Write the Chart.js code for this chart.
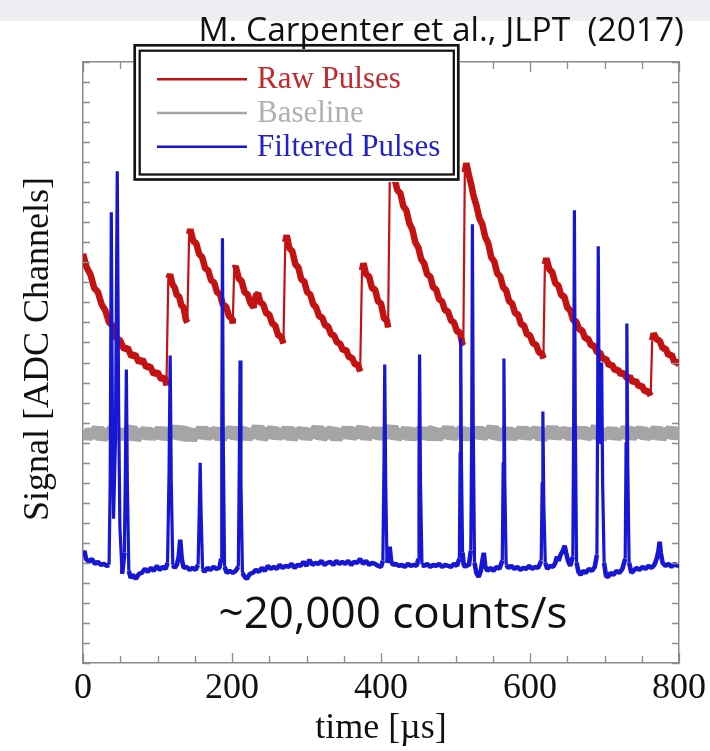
<!DOCTYPE html>
<html><head><meta charset="utf-8">
<script src="https://cdn.jsdelivr.net/npm/chart.js@4/dist/chart.umd.min.js"></script>
<style>html,body{margin:0;padding:0;background:#fff;}canvas{display:block;}</style>
</head><body>
<canvas id="c" width="710" height="751"></canvas>
<script>
// ---------- DATA (time in µs, signal in ADC-tick units) ----------
const seriesNames = ['Raw Pulses', 'Baseline', 'Filtered Pulses'];
const xLabelValues = [0, 200, 400, 600, 800];
const chartTitle = 'M. Carpenter et al., JLPT  (2017)';
const rateNote = '~20,000 counts/s';
const xTitle = 'time [\u00b5s]';
const yTitle = 'Signal [ADC Channels]';

const rawPulses = [
[0,20.42],[5,19.74],[10,19.4],[15,18.72],[20,18.52],[25,17.9],[30,17.6],[35,17.0],[40,16.84],[45,16.2],[50,16.1],[55,15.66],
[60,15.74],[65,15.3],[70,15.4],[75,15.0],[80,15.14],[85,14.76],[90,14.82],[95,14.42],[100,14.52],[105,14.16],[110,14.26],[112,13.85],
[114.5,19.2],[117,19.4],[120,18.9],[123,18.75],[126,18.35],[129,18.3],[132,17.85],[135,17.75],[138,17.15],[140,17.0],
[142.5,21.4],[144,21.65],[148,21.05],[152,20.95],[156,20.4],[160,20.25],[164,19.7],[168,19.6],[172,19.1],[176,19.0],[180,18.5],[184,18.4],[188,17.85],[192,17.8],[196,17.3],[200,17.2],[201,16.95],
[203,19.7],[205,19.8],[209,19.2],[213,19.05],[217,18.5],[221,18.4],[225,17.95],[229,17.75],[232,18.35],[235,18.45],[238,18.0],[242,17.9],[246,17.45],[250,17.4],[254,16.95],[258,16.85],[262,16.35],[266,16.3],[269,15.95],
[271.5,21.0],[273.5,21.35],[277,20.7],[281,20.55],[285,19.9],[289,19.75],[293,19.15],[297,19.05],[301,18.5],[305,18.4],[309,17.9],[313,17.75],[317,17.3],[321,17.25],[325,16.85],[329,16.8],[333,16.4],[337,16.35],[341,16.0],[345,15.95],[349,15.6],[353,15.65],[357,15.25],[361,15.25],[365,14.9],[369,14.9],[372,14.55],
[374.5,19.6],[376.5,19.95],[380,19.4],[384,19.3],[388,18.7],[392,18.65],[396,18.05],[400,17.95],[404,17.2],[408,17.1],[409.5,16.75],
[412,24.9],[415,24.4],[418,24.2],[422,23.6],[426,23.45],[430,22.8],[434,22.6],[438,21.95],[442,21.65],[446,21.0],[450,20.75],[454,20.15],[458,19.95],[462,19.4],[466,19.3],[470,18.75],[474,18.65],[478,18.15],[482,18.05],[486,17.6],[490,17.55],[494,17.1],[498,17.0],[502,16.55],[506,16.5],[509,15.95],[510.5,15.85],
[512.5,24.5],[514.5,24.95],[518,24.35],[521,23.9],[524,23.35],[528,22.85],[532,22.2],[536,21.9],[540,21.25],[544,20.95],[548,20.25],[552,20.05],[556,19.45],[560,19.3],[564,18.75],[568,18.6],[572,18.05],[576,17.95],[580,17.45],[584,17.4],[588,16.9],[592,16.85],[596,16.4],[600,16.35],[604,15.95],[608,15.9],[612,15.5],[616,15.45],[618,15.2],
[620,19.9],[622,20.2],[626,19.65],[630,19.5],[634,18.95],[638,18.85],[642,18.35],[646,18.3],[650,17.75],[654,17.6],[658,17.1],[662,17.05],[666,16.65],[670,16.6],[674,16.2],[678,16.2],[682,15.85],[686,15.85],[690,15.5],[694,15.5],[698,15.15],[702,15.2],[706,14.85],[710,14.9],[714,14.6],[718,14.65],[722,14.4],[726,14.5],[730,14.2],[734,14.3],[738,14.0],[742,14.1],[746,13.8],[750,13.85],[754,13.55],[758,13.6],[762,13.35],
[764,16.1],[766,16.45],[770,16.15],[774,16.1],[778,15.7],[782,15.7],[786,15.35],[790,15.4],[794,15.0],[798,15.05],[800,14.85]
];

const baseline = [
[0,11.62],[5,11.28],[10,11.55],[15,11.35],[20,11.7],[25,11.22],[30,11.5],[35,11.4],[40,11.66],[45,11.25],
[50,11.58],[55,11.3],[60,11.48],[65,11.72],[70,11.2],[75,11.52],[80,11.36],[85,11.64],[90,11.27],[95,11.55],
[100,11.33],[105,11.68],[110,11.24],[115,11.5],[120,11.42],[125,11.75],[130,11.26],[135,11.47],[140,11.6],[145,11.18],
[150,11.56],[155,11.34],[160,11.69],[165,11.3],[170,11.52],[175,11.4],[180,11.62],[185,11.21],[190,11.58],[195,11.37],
[200,11.7],[205,11.28],[210,11.49],[215,11.63],[220,11.25],[225,11.54],[230,11.36],[235,11.78],[240,11.23],[245,11.51],
[250,11.44],[255,11.66],[260,11.29],[265,11.57],[270,11.33],[275,11.7],[280,11.22],[285,11.55],[290,11.4],[295,11.62],
[300,11.27],[305,11.53],[310,11.38],[315,11.73],[320,11.26],[325,11.5],[330,11.43],[335,11.65],[340,11.2],[345,11.56],
[350,11.35],[355,11.68],[360,11.31],[365,11.52],[370,11.45],[375,11.71],[380,11.24],[385,11.58],[390,11.36],[395,11.64],
[400,11.28],[405,11.5],[410,11.41],[415,11.76],[420,11.25],[425,11.54],[430,11.34],[435,11.67],[440,11.22],[445,11.57],
[450,11.39],[455,11.63],[460,11.3],[465,11.49],[470,11.6],[475,11.23],[480,11.55],[485,11.37],[490,11.72],[495,11.27],
[500,11.52],[505,11.42],[510,11.66],[515,11.21],[520,11.58],[525,11.35],[530,11.69],[535,11.29],[540,11.53],[545,11.44],
[550,11.74],[555,11.26],[560,11.5],[565,11.38],[570,11.64],[575,11.24],[580,11.56],[585,11.33],[590,11.7],[595,11.28],
[600,11.55],[605,11.41],[610,11.67],[615,11.22],[620,11.51],[625,11.36],[630,11.73],[635,11.27],[640,11.58],[645,11.4],
[650,11.62],[655,11.25],[660,11.53],[665,11.35],[670,11.68],[675,11.3],[680,11.49],[685,11.45],[690,11.75],[695,11.23],
[700,11.56],[705,11.34],[710,11.65],[715,11.28],[720,11.52],[725,11.39],[730,11.7],[735,11.26],[740,11.57],[745,11.43],
[750,11.63],[755,11.31],[760,11.5],[765,11.37],[770,11.69],[775,11.24],[780,11.54],[785,11.41],[790,11.66],[795,11.29],
[800,11.55]
];

const filteredPulses = [
[0,5.35],[2,5.6],[4,5.2],[8,5.05],[12,5.2],[16,4.95],[20,5.05],[24,4.9],[28,4.95],[32,4.85],[35,4.9],
[36.5,9.0],[38,22.5],[39.5,12.0],[41,7.2],[43.5,11.0],[46,24.55],[47.8,13.0],[49.5,6.8],[52.5,4.45],
[55.5,5.5],[57,10.0],[58.2,14.65],[59.5,9.0],[61.5,4.6],[64,4.25],
[67,4.4],[71,4.2],[75,4.45],[79,4.5],[83,4.7],[87,4.55],[91,4.75],[95,4.6],[99,4.85],[103,4.65],[107,4.8],[111,4.7],[113.5,5.0],
[115.5,9.5],[117,15.35],[118.5,9.0],[120.5,4.9],[123,4.75],[126,4.9],[128.5,5.3],[130.5,6.15],[132.5,5.2],[135,4.75],[139,4.8],[143,4.65],[147,4.75],[151,4.65],[154.5,4.9],
[156.3,8.0],[157.3,10.0],[158.5,7.5],[160.5,4.7],[163,4.55],[167,4.75],[171,4.65],[175,4.8],[179,4.7],[183,4.75],[185.5,5.2],
[186.3,12.0],[187.2,21.2],[188.3,11.0],[190,4.8],[193,4.5],[197,4.6],[201,4.5],[205,4.6],[208.5,4.8],
[209.8,10.0],[210.8,15.1],[212,9.0],[214,4.5],[217,4.3],[220,4.2],[224,4.45],[228,4.5],[232,4.65],[236,4.55],[240,4.75],[244,4.6],[248,4.85],[252,4.7],[256,4.8],[260,4.7],[264,4.9],[268,4.75],[272,4.85],[276,4.8],[280,4.95],[284,4.75],[288,4.9],[292,4.85],[296,5.05],[300,4.85],[304,5.15],[308,4.9],[312,5.0],[316,4.95],[320,5.1],[324,4.9],[328,5.0],[332,5.05],[336,4.9],[340,5.1],[344,4.95],[348,5.05],[352,4.95],[356,5.1],[360,4.9],[364,5.05],[368,5.0],[372,5.2],[376,4.95],[380,5.1],[384,4.9],[388,5.0],[392,4.95],[396,4.85],[400,4.8],[402.5,5.1],
[404,10.0],[405,14.9],[406.3,9.0],[408,5.0],[410,5.3],[411.6,5.8],[413.5,5.1],[416,4.9],[420,4.95],[424,4.85],[428,4.9],[432,4.8],[436,4.95],[440,4.85],[444,4.9],[448,4.85],[450.2,5.2],
[451,10.0],[451.8,15.4],[453,9.0],[455,4.9],[458,4.85],[462,4.95],[466,4.8],[470,4.9],[474,4.85],[478,4.95],[482,4.8],[486,4.9],[490,4.85],[494,4.8],[498,4.95],[502,4.85],[505.2,5.2],
[506.2,10.5],[507,16.2],[508,10.0],[509.5,5.5],[511,4.9],[513,4.8],[515.5,4.9],[518,4.85],[520.5,5.6],
[521.8,12.0],[522.7,21.9],[523.8,12.0],[525.5,5.0],[528,4.5],[531,4.3],[534,4.6],[536.5,5.2],[538,5.5],[540,4.8],[543,4.6],[547,4.75],[551,4.6],[555,4.8],[559,4.7],[562.8,5.1],
[564,10.0],[565,15.2],[566.2,9.0],[568,4.9],[571,4.75],[575,4.85],[579,4.7],[583,4.8],[587,4.65],[591,4.75],[595,4.7],[599,4.85],[603,4.7],[607,4.8],[611,4.75],[615,5.1],
[616.3,9.0],[617.3,12.55],[618.5,8.0],[620.5,5.0],[623,4.7],[627,4.85],[631,4.8],[634,5.0],[636,5.3],[638.5,5.1],[641,5.4],[644,5.6],[646.5,5.85],[648.5,5.5],[651,5.1],[654,4.85],[657.5,5.3],
[658.6,12.0],[659.6,22.6],[660.8,12.0],[662.5,5.0],[665,4.55],[668,4.4],[671,4.6],[675,4.5],[679,4.7],[683,4.6],[687,4.8],[689.8,5.4],
[690.7,12.0],[691.6,20.8],[692.8,13.0],[694,11.0],[695.2,13.5],[696.2,15.0],[697.5,9.0],[699.5,5.0],[702,4.35],[705,4.3],[708,4.5],[712,4.4],[716,4.6],[720,4.5],[724,4.7],[727.8,5.2],
[729,11.0],[730,16.95],[731.2,10.0],[733,5.0],[736,4.5],[739,4.6],[743,4.75],[747,4.65],[751,4.8],[755,4.7],[759,4.85],[763,4.75],[767,4.9],[770,5.2],[772.5,5.6],[774,6.05],[775.5,5.5],[778,5.0],[782,4.85],[786,4.95],[790,4.8],[794,4.95],[798,4.85],[800,4.9]
];

// ---------- STYLE ----------
const RED = 'rgb(196,18,18)', GRAY = 'rgb(165,165,165)', BLUE = 'rgb(22,22,212)';
const legendTextColors = ['rgb(196,40,44)', 'rgb(176,176,176)', 'rgb(34,34,200)'];
const FRAME = '#8c8c8c';
const SERIF = '"Liberation Serif", "Times New Roman", serif';
const SANS = '"Open Sans", "Noto Sans", sans-serif';
const toXY = arr => arr.map(p => ({x: p[0], y: p[1]}));
// steep segments (pulse edges) drawn thin, slow noisy segments drawn as a thick band
const widthBySlope = (thick, thin) => ctx => {
  const dy = Math.abs(ctx.p1.parsed.y - ctx.p0.parsed.y);
  return dy > 1.2 ? thin : thick;
};

const decorPlugin = {
  id: 'decor',
  beforeDraw(chart) {
    const c = chart.ctx;
    c.save();
    c.fillStyle = '#fff';
    c.fillRect(0, 0, chart.width, chart.height);
    c.fillStyle = '#eceef2';
    c.fillRect(0, 0, chart.width, 21);
    c.restore();
  },
  afterDraw(chart) {
    const c = chart.ctx;
    const {x, y} = chart.scales;
    const a = chart.chartArea;
    c.save();
    // inward tick marks
    c.strokeStyle = FRAME; c.lineWidth = 1.3;
    c.beginPath();
    x.ticks.forEach(t => {
      const px = Math.round(x.getPixelForValue(t.value)) + 0.5;
      const len = (t.value % 200 === 0) ? 10 : 7;
      c.moveTo(px, a.bottom); c.lineTo(px, a.bottom - len);
      c.moveTo(px, a.top); c.lineTo(px, a.top + len);
    });
    y.ticks.forEach(t => {
      const py = Math.round(y.getPixelForValue(t.value)) + 0.5;
      c.moveTo(a.left, py); c.lineTo(a.left + 7, py);
      c.moveTo(a.right, py); c.lineTo(a.right - 7, py);
    });
    c.stroke();

    // legend box (double frame)
    c.fillStyle = '#fff';
    c.fillRect(133, 43, 327, 139);
    c.strokeStyle = '#151515';
    c.lineWidth = 2.7;
    c.strokeRect(134.7, 45.3, 323.6, 134.2);
    c.lineWidth = 2.3;
    c.strokeRect(139.7, 50.7, 314.1, 123.8);
    chart.data.datasets.forEach((ds, i) => {
      const ly = 79.3 + i * 33.7;
      c.strokeStyle = ds.borderColor; c.lineWidth = 2.6;
      c.beginPath(); c.moveTo(157, ly); c.lineTo(247, ly); c.stroke();
      c.fillStyle = legendTextColors[i];
      c.font = '31px ' + SERIF;
      c.textAlign = 'left'; c.textBaseline = 'middle';
      c.fillText(ds.label, 257, ly + 1);
    });

    // y-axis title
    c.save();
    c.translate(39, 349);
    c.rotate(-Math.PI / 2);
    c.fillStyle = '#111';
    c.font = '36px ' + SERIF;
    c.textAlign = 'center'; c.textBaseline = 'middle';
    c.fillText(yTitle, 0, 0);
    c.restore();

    // header citation and rate note
    c.fillStyle = '#111';
    c.font = '33.5px ' + SANS;
    c.textAlign = 'right'; c.textBaseline = 'alphabetic';
    c.fillText(chartTitle, 684, 41);
    c.font = '44px ' + SANS;
    c.textAlign = 'center';
    c.fillText(rateNote, 393, 628);
    c.restore();
  }
};

const hiddenAxis = (pos, max, fitFn) => ({
  type: 'linear', position: pos, min: 0, max: max,
  ticks: {display: false},
  grid: {display: true, drawOnChartArea: false, drawTicks: false},
  border: {display: true, color: FRAME, width: 1.5},
  afterFit: fitFn
});

new Chart(document.getElementById('c'), {
  type: 'line',
  data: {
    datasets: [
      {label: seriesNames[0], data: toXY(rawPulses), borderColor: RED, borderWidth: 6.5, pointRadius: 0, tension: 0, order: 1,
       borderJoinStyle: 'bevel', segment: {borderWidth: widthBySlope(6.5, 2.2)}},
      {label: seriesNames[1], data: toXY(baseline), borderColor: GRAY, borderWidth: 13, pointRadius: 0, tension: 0, order: 2,
       borderJoinStyle: 'bevel'},
      {label: seriesNames[2], data: toXY(filteredPulses), borderColor: BLUE, borderWidth: 4.5, pointRadius: 0, tension: 0, order: 0,
       borderJoinStyle: 'bevel', segment: {borderWidth: widthBySlope(4.6, 3.2)}}
    ]
  },
  options: {
    responsive: false, animation: false, devicePixelRatio: 1,
    layout: {padding: 0},
    plugins: {legend: {display: false}, tooltip: {enabled: false}, title: {display: false}},
    scales: {
      x: {
        type: 'linear', position: 'bottom', min: 0, max: 800,
        ticks: {
          stepSize: 50, autoSkip: false, maxRotation: 0, padding: 4,
          callback: v => xLabelValues.includes(v) ? String(v) : '',
          color: '#111', font: {family: SERIF, size: 36}
        },
        grid: {display: true, drawOnChartArea: false, drawTicks: false},
        border: {display: true, color: FRAME, width: 1.5},
        title: {display: true, text: xTitle, color: '#111', font: {family: SERIF, size: 36}, padding: {top: 0, bottom: 1}},
        afterFit: s => { s.height = 88; }
      },
      x2: hiddenAxis('top', 800, s => { s.height = 62; }),
      y: {
        type: 'linear', position: 'left', min: 0, max: 30,
        ticks: {display: false, stepSize: 1, maxTicksLimit: 100},
        grid: {display: true, drawOnChartArea: false, drawTicks: false},
        border: {display: true, color: FRAME, width: 1.5},
        afterFit: s => { s.width = 83; }
      },
      y2: hiddenAxis('right', 30, s => { s.width = 28; })
    }
  },
  plugins: [decorPlugin]
});
</script>
</body></html>
